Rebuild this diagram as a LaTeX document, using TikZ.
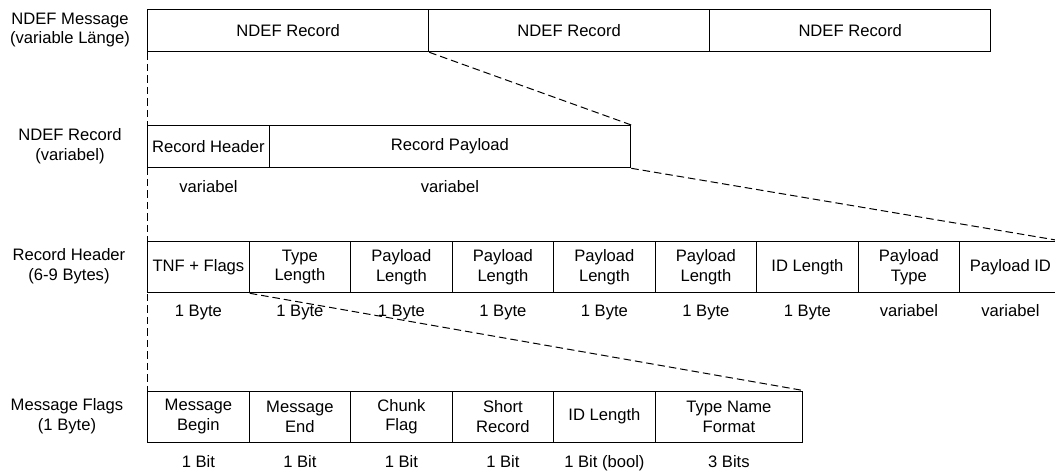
\documentclass[tikz,border=0pt]{standalone}
\usepackage{fontspec}
\setmainfont{Liberation Sans}
\begin{document}
\begin{tikzpicture}[x=1pt,y=-1pt,
  font=\fontsize{16.6}{19.5}\selectfont,
  cellbox/.style 2 args={draw, line width=1.3pt, inner sep=0pt, align=center,
    anchor=north west, minimum width=#1, minimum height=#2},
  sublabel/.style={inner sep=0pt, anchor=center, text height=12pt, text depth=3.5pt},
  rowlabel/.style={inner sep=0pt, align=center, anchor=center},
  dashline/.style={line width=1pt, dash pattern=on 7.5pt off 4pt}]
\useasboundingbox (0,0) rectangle (1055,471);
\clip (0,0) rectangle (1055,471);

% row labels
\node[rowlabel] (l1) at (70,30) {NDEF Message\\(variable Länge)};
\node[rowlabel] (l2) at (70,146) {NDEF Record\\(variabel)};
\node[rowlabel] (l3) at (69,266) {Record Header\\(6-9 Bytes)};
\node[rowlabel] (l4) at (67,416) {Message Flags\\(1 Byte)};

% row 1: NDEF Message
\node[cellbox={281pt}{42pt}] (m1) at (147,9) {NDEF Record};
\node[cellbox={281pt}{42pt}] (m2) at (428,9) {NDEF Record};
\node[cellbox={281pt}{42pt}] (m3) at (709,9) {NDEF Record};

% row 2: NDEF Record
\node[cellbox={121.5pt}{42pt}] (r1) at (147,125) {Record Header};
\node[cellbox={361.5pt}{42pt}] (r2) at (268.5,125) {Record Payload};
\node[sublabel] (r1s) at ([yshift=-20pt]r1.south) {variabel};
\node[sublabel] (r2s) at ([yshift=-20pt]r2.south) {variabel};

% row 3: Record Header
\node[cellbox={101.5pt}{51pt}] (h1) at (147,241) {TNF + Flags};
\node[cellbox={101.5pt}{51pt}] (h2) at (248.5,241) {Type\\Length};
\node[cellbox={101.5pt}{51pt}] (h3) at (350,241) {Payload\\Length};
\node[cellbox={101.5pt}{51pt}] (h4) at (451.5,241) {Payload\\Length};
\node[cellbox={101.5pt}{51pt}] (h5) at (553,241) {Payload\\Length};
\node[cellbox={101.5pt}{51pt}] (h6) at (654.5,241) {Payload\\Length};
\node[cellbox={101.5pt}{51pt}] (h7) at (756,241) {ID Length};
\node[cellbox={101.5pt}{51pt}] (h8) at (857.5,241) {Payload\\Type};
\node[cellbox={101.5pt}{51pt}] (h9) at (959,241) {Payload ID};
\foreach \n/\t in {h1/1 Byte,h2/1 Byte,h3/1 Byte,h4/1 Byte,h5/1 Byte,h6/1 Byte,h7/1 Byte,h8/variabel,h9/variabel}
  \node[sublabel] (\n s) at ([yshift=-18.5pt]\n.south) {\t};

% row 4: Message Flags
\node[cellbox={101.5pt}{51pt}] (f1) at (147,390.5) {Message\\Begin};
\node[cellbox={101.5pt}{51pt}] (f2) at (248.5,390.5) {Message\\End};
\node[cellbox={101.5pt}{51pt}] (f3) at (350,390.5) {Chunk\\Flag};
\node[cellbox={101.5pt}{51pt}] (f4) at (451.5,390.5) {Short\\Record};
\node[cellbox={101.5pt}{51pt}] (f5) at (553,390.5) {ID Length};
\node[cellbox={147.5pt}{51pt}] (f6) at (654.5,390.5) {Type Name\\Format};
\foreach \n/\t in {f1/1 Bit,f2/1 Bit,f3/1 Bit,f4/1 Bit,f5/1 Bit (bool),f6/3 Bits}
  \node[sublabel] (\n s) at ([yshift=-20.5pt]\n.south) {\t};

% dashed zoom connectors
\draw[dashline] (m1.south west) -- (f1.north west);
\draw[dashline] (m1.south east) -- (r2.north east);
\draw[dashline] (r2.south east) -- (h9.north east);
\draw[dashline] (h1.south east) -- (f6.north east);
\end{tikzpicture}
\end{document}
